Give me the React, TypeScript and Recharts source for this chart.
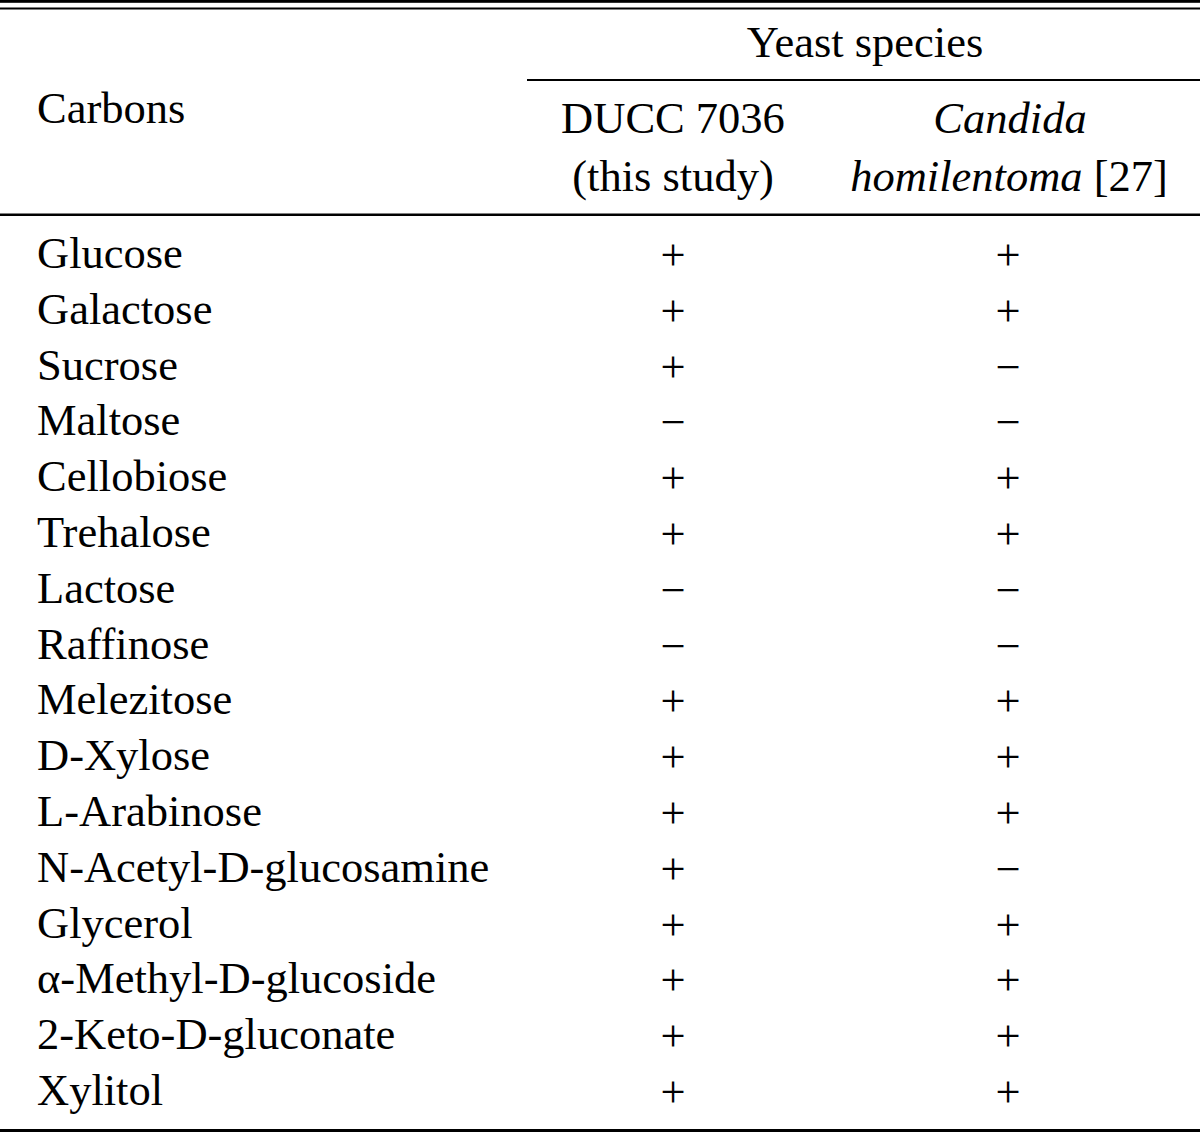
import React from 'react';
import { ScatterChart, Scatter, XAxis, YAxis, Customized } from 'recharts';

// table content
const carbons = [
    'Glucose', 'Galactose', 'Sucrose', 'Maltose', 'Cellobiose', 'Trehalose', 'Lactose', 'Raffinose',
    'Melezitose', 'D-Xylose', 'L-Arabinose', 'N-Acetyl-D-glucosamine', 'Glycerol',
    'α-Methyl-D-glucoside', '2-Keto-D-gluconate', 'Xylitol',
];
const ducc7036 = ['+', '+', '+', '−', '+', '+', '−', '−', '+', '+', '+', '+', '+', '+', '+', '+'];
const candidaHomilentoma = ['+', '+', '−', '−', '+', '+', '−', '−', '+', '+', '+', '−', '+', '+', '+', '+'];
const columnHeads = [
    ['DUCC 7036', '(this study)'],
    ['Candida', 'homilentoma'],
];
const groupHead = 'Yeast species';
const stubHead = 'Carbons';

const W = 1200;
const H = 1133;
const FONT = '"Liberation Serif", "Times New Roman", serif';
const FS = 44.5;
const STUB_W = 527;
const COL_DOMAIN: [number, number] = [-0.4357, 1.5731];

const duccData = ducc7036.map((sign, i) => ({ col: 0, row: i, sign }));
const candidaData = candidaHomilentoma.map((sign, i) => ({ col: 1, row: i, sign }));

const SignShape = (props: any) => (
    <text x={props.cx} y={props.cy + 2} textAnchor="middle" dominantBaseline="central"
        fontFamily={FONT} fontSize={FS} fill="#000">
        {props.payload.sign}
    </text>
);

const CarbonTick = (props: any) => (
    <text x={37} y={props.y} dominantBaseline="central" fontFamily={FONT} fontSize={FS} fill="#000">
        {carbons[props.payload.value]}
    </text>
);

// rules and header rows
const Header = () => (
    <g fontFamily={FONT} fontSize={FS} fill="#000">
        <rect x={0} y={0} width={W} height={2.8} fill="#000" />
        <rect x={0} y={7.5} width={W} height={2} fill="#000" />
        <rect x={STUB_W} y={79} width={W - STUB_W} height={2} fill="#000" />
        <rect x={0} y={213.5} width={W} height={2.5} fill="#000" />
        <rect x={0} y={1129} width={W} height={3} fill="#000" />
        <text x={865} y={42} textAnchor="middle" dominantBaseline="central">{groupHead}</text>
        <text x={37} y={108} dominantBaseline="central">{stubHead}</text>
        <text x={673} y={118} textAnchor="middle" dominantBaseline="central">{columnHeads[0][0]}</text>
        <text x={673} y={176} textAnchor="middle" dominantBaseline="central">{columnHeads[0][1]}</text>
        <text x={1010} y={118} textAnchor="middle" dominantBaseline="central" fontStyle="italic">{columnHeads[1][0]}</text>
        <text x={1009} y={176} textAnchor="middle" dominantBaseline="central">
            <tspan fontStyle="italic">{columnHeads[1][1]}</tspan> [27]
        </text>
    </g>
);

export default function App() {
    return (
        <div style={{ position: 'absolute', left: 0, top: 0, width: W, height: H, background: '#fff' }}>
            <ScatterChart width={W} height={H} margin={{ top: 225, right: 0, bottom: 15, left: 0 }}>
                <XAxis type="number" dataKey="col" domain={COL_DOMAIN} hide />
                <YAxis
                    type="number"
                    dataKey="row"
                    domain={[-0.5, 15.5]}
                    reversed
                    ticks={carbons.map((_, i) => i)}
                    interval={0}
                    width={STUB_W}
                    axisLine={false}
                    tickLine={false}
                    tick={<CarbonTick />}
                />
                <Scatter data={duccData} shape={<SignShape />} isAnimationActive={false} />
                <Scatter data={candidaData} shape={<SignShape />} isAnimationActive={false} />
                <Customized component={<Header />} />
            </ScatterChart>
        </div>
    );
}
